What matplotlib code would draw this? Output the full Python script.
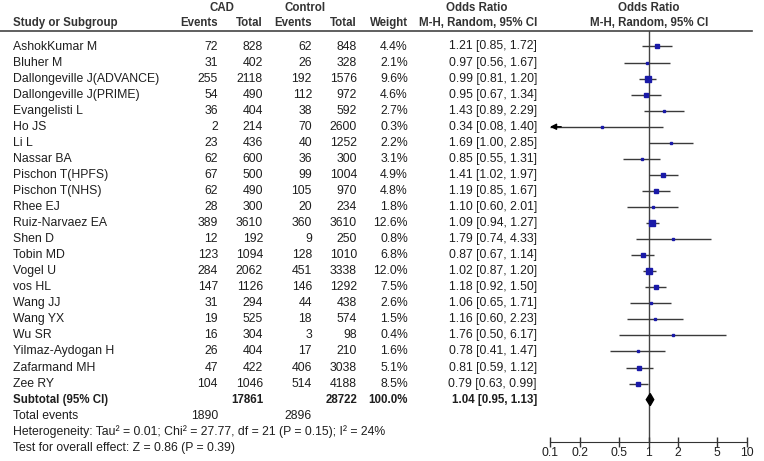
import numpy as np
import matplotlib
matplotlib.use("Agg")
import matplotlib.pyplot as plt

plt.rcParams['font.family'] = ['Liberation Sans', 'DejaVu Sans']

studies = ["AshokKumar M", "Bluher M", "Dallongeville J(ADVANCE)", "Dallongeville J(PRIME)",
           "Evangelisti L", "Ho JS", "Li L", "Nassar BA", "Pischon T(HPFS)", "Pischon T(NHS)",
           "Rhee EJ", "Ruiz-Narvaez EA", "Shen D", "Tobin MD", "Vogel U", "vos HL", "Wang JJ",
           "Wang YX", "Wu SR", "Yilmaz-Aydogan H", "Zafarmand MH", "Zee RY"]
cad_events = [72, 31, 255, 54, 36, 2, 23, 62, 67, 62, 28, 389, 12, 123, 284, 147, 31, 19, 16, 26, 47, 104]
cad_total = [828, 402, 2118, 490, 404, 214, 436, 600, 500, 490, 300, 3610, 192, 1094, 2062, 1126, 294, 525, 304, 404, 422, 1046]
ctrl_events = [62, 26, 192, 112, 38, 70, 40, 36, 99, 105, 20, 360, 9, 128, 451, 146, 44, 18, 3, 17, 406, 514]
ctrl_total = [848, 328, 1576, 972, 592, 2600, 1252, 300, 1004, 970, 234, 3610, 250, 1010, 3338, 1292, 438, 574, 98, 210, 3038, 4188]
weights = [4.4, 2.1, 9.6, 4.6, 2.7, 0.3, 2.2, 3.1, 4.9, 4.8, 1.8, 12.6, 0.8, 6.8, 12.0, 7.5, 2.6, 1.5, 0.4, 1.6, 5.1, 8.5]
odds = [1.21, 0.97, 0.99, 0.95, 1.43, 0.34, 1.69, 0.85, 1.41, 1.19, 1.10, 1.09, 1.79, 0.87, 1.02, 1.18, 1.06, 1.16, 1.76, 0.78, 0.81, 0.79]
ci_lo = [0.85, 0.56, 0.81, 0.67, 0.89, 0.08, 1.00, 0.55, 1.02, 0.85, 0.60, 0.94, 0.74, 0.67, 0.87, 0.92, 0.65, 0.60, 0.50, 0.41, 0.59, 0.63]
ci_hi = [1.72, 1.67, 1.20, 1.34, 2.29, 1.40, 2.85, 1.31, 1.97, 1.67, 2.01, 1.27, 4.33, 1.14, 1.20, 1.50, 1.71, 2.23, 6.17, 1.47, 1.12, 0.99]

sub_or, sub_lo, sub_hi = 1.04, 0.95, 1.13
sub_cad_total, sub_ctrl_total = 17861, 28722
tot_cad_events, tot_ctrl_events = 1890, 2896
het_text = "Heterogeneity: Tau\u00b2 = 0.01; Chi\u00b2 = 27.77, df = 21 (P = 0.15); I\u00b2 = 24%"
test_text = "Test for overall effect: Z = 0.86 (P = 0.39)"
ticks = [0.1, 0.2, 0.5, 1, 2, 5, 10]

W, H = 764, 461
fig = plt.figure(figsize=(W / 100, H / 100), dpi=100)

# text layer in pixel coords
tx = fig.add_axes([0, 0, 1, 1])
tx.set_xlim(0, W)
tx.set_ylim(H, 0)
tx.axis('off')

row0, dy = 46.5, 16.05
def ry(i):
    return row0 + dy * i

fs = 8.8
hfs = 8.3
col = '#1e1e1e'
hcol = '#333333'
# column right edges
c_ev1, c_tot1, c_ev2, c_tot2, c_w, c_or = 218, 263, 312, 357, 408, 537

def t(x, y, s, ha='right', bold=False, c=col, size=None):
    tx.text(x, y, s, ha=ha, va='center', fontsize=size or fs,
            fontweight='bold' if bold else 'normal', color=c)

def h(x, y, s, ha='right'):
    t(x, y, s, ha, True, hcol, hfs)

# headers
h(222, 8, "CAD", 'center')
h(305, 8, "Control", 'center')
h(477, 8, "Odds Ratio", 'center')
h(649, 8, "Odds Ratio", 'center')
h(13, 23, "Study or Subgroup", 'left')
h(c_ev1, 23, "Events")
h(c_tot1, 23, "Total")
h(c_ev2, 23, "Events")
h(c_tot2, 23, "Total")
h(c_w, 23, "Weight")
h(c_or, 23, "M-H, Random, 95% CI")
h(649, 23, "M-H, Random, 95% CI", 'center')
tx.plot([0, 752], [31, 31], color='#444444', lw=1.2)

for i, s in enumerate(studies):
    y = ry(i)
    t(13, y, s, 'left')
    t(c_ev1, y, str(cad_events[i]))
    t(c_tot1, y, str(cad_total[i]))
    t(c_ev2, y, str(ctrl_events[i]))
    t(c_tot2, y, str(ctrl_total[i]))
    t(c_w, y, "%.1f%%" % weights[i])
    t(c_or, y, "%.2f [%.2f, %.2f]" % (odds[i], ci_lo[i], ci_hi[i]))

n = len(studies)
y = ry(n)
t(13, y, "Subtotal (95% CI)", 'left', True, size=hfs)
t(c_tot1, y, str(sub_cad_total), bold=True, size=hfs)
t(c_tot2, y, str(sub_ctrl_total), bold=True, size=hfs)
t(c_w, y, "100.0%", bold=True, size=hfs)
t(c_or, y, "%.2f [%.2f, %.2f]" % (sub_or, sub_lo, sub_hi), bold=True, size=hfs)
y = ry(n + 1)
t(13, y, "Total events", 'left')
t(c_ev1, y, str(tot_cad_events))
t(c_ev2, y, str(tot_ctrl_events))
t(13, ry(n + 2), het_text, 'left')
t(13, ry(n + 3), test_text, 'left')

# forest axes
x0, x1 = 550, 747
ytop, ybot = 31, 442
r_top = (ytop - row0) / dy
r_bot = (ybot - row0) / dy
ax = fig.add_axes([x0 / W, 1 - ybot / H, (x1 - x0) / W, (ybot - ytop) / H])
ax.patch.set_alpha(0)
ax.set_xscale('log')
ax.set_xlim(0.1, 10)
ax.set_ylim(r_bot, r_top)
for sp in ['top', 'right', 'left']:
    ax.spines[sp].set_visible(False)
ax.spines['bottom'].set_color('#333333')
ax.set_yticks([])
ax.set_xticks(ticks)
ax.set_xticklabels([("%g" % v) for v in ticks])
ax.xaxis.set_minor_locator(matplotlib.ticker.NullLocator())
ax.tick_params(axis='x', direction='inout', length=7, width=1, colors='#333333',
               labelsize=fs, labelcolor=col, pad=0)

ax.axvline(1, color='#444444', lw=1, zorder=1)

for i in range(n):
    lo = max(ci_lo[i], 0.1)
    hi = min(ci_hi[i], 10)
    ax.plot([lo, hi], [i, i], color='#3a3a3a', lw=1, zorder=2, solid_capstyle='butt')
    if ci_lo[i] < 0.1:
        ax.annotate('', xy=(0.1, i), xytext=(0.13, i),
                    arrowprops=dict(arrowstyle='-|>', color='black', lw=1,
                                    mutation_scale=9, shrinkA=0, shrinkB=0))
    ms = max(1.6, 1.2 * np.sqrt(weights[i]))
    ax.plot(odds[i], i, marker='s', ms=ms, color='#1a1aa8', mec='#1a1aa8', zorder=3)

# subtotal diamond
ax.fill([sub_lo, sub_or, sub_hi, sub_or], [n, n - 0.38, n, n + 0.38],
        color='black', zorder=4)

fig.savefig("out.png", dpi=100)
